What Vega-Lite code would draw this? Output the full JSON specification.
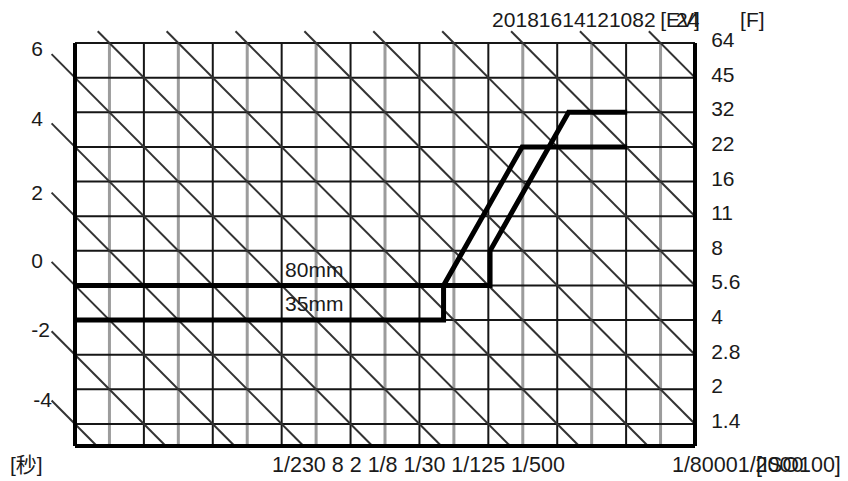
{
  "$schema": "https://vega.github.io/schema/vega-lite/v6.json",
  "width": 620,
  "height": 403,
  "autosize": {"type": "none"},
  "padding": {"left": 75, "top": 43, "right": 153, "bottom": 35},
  "background": "white",
  "view": {"stroke": null},
  "config": {"text": {"font": "Liberation Sans, Noto Sans CJK SC", "fontSize": 21, "color": "#1a1a1a"}},
  "datasets": {
    "hlines": [{"y": 0}, {"y": 1}, {"y": 2}, {"y": 3}, {"y": 4}, {"y": 5}, {"y": 6}, {"y": 7}, {"y": 8}, {"y": 9}, {"y": 10}, {"y": 11}],
    "vblack": [{"x": 2}, {"x": 4}, {"x": 6}, {"x": 8}, {"x": 10}, {"x": 12}, {"x": 14}, {"x": 16}],
    "vgray": [{"x": 1}, {"x": 3}, {"x": 5}, {"x": 7}, {"x": 9}, {"x": 11}, {"x": 13}, {"x": 15}, {"x": 17}],
    "diag": [
      {"c": 0, "x1": -0.68, "y1": 0.68, "x2": 0.635, "y2": -0.635},
      {"c": 2, "x1": -0.68, "y1": 2.68, "x2": 2.635, "y2": -0.635},
      {"c": 4, "x1": -0.68, "y1": 4.68, "x2": 4.635, "y2": -0.635},
      {"c": 6, "x1": -0.68, "y1": 6.68, "x2": 6.635, "y2": -0.635},
      {"c": 8, "x1": -0.68, "y1": 8.68, "x2": 8.635, "y2": -0.635},
      {"c": 10, "x1": -0.68, "y1": 10.68, "x2": 10.635, "y2": -0.635},
      {"c": 12, "x1": 0.66, "y1": 11.34, "x2": 12.635, "y2": -0.635},
      {"c": 14, "x1": 2.66, "y1": 11.34, "x2": 14.635, "y2": -0.635},
      {"c": 16, "x1": 4.66, "y1": 11.34, "x2": 16.635, "y2": -0.635},
      {"c": 18, "x1": 6.66, "y1": 11.34, "x2": 18, "y2": 0},
      {"c": 20, "x1": 8.66, "y1": 11.34, "x2": 18, "y2": 2},
      {"c": 22, "x1": 10.66, "y1": 11.34, "x2": 18, "y2": 4},
      {"c": 24, "x1": 12.66, "y1": 11.34, "x2": 18, "y2": 6},
      {"c": 26, "x1": 14.66, "y1": 11.34, "x2": 18, "y2": 8},
      {"c": 28, "x1": 16.66, "y1": 11.34, "x2": 18, "y2": 10}
    ],
    "program": [
      {"lens": "35mm", "i": 0, "x": 0, "y": 3},
      {"lens": "35mm", "i": 1, "x": 10.7, "y": 3},
      {"lens": "35mm", "i": 2, "x": 10.7, "y": 4},
      {"lens": "35mm", "i": 3, "x": 12.98, "y": 8},
      {"lens": "35mm", "i": 4, "x": 16.03, "y": 8},
      {"lens": "80mm", "i": 0, "x": 0, "y": 4},
      {"lens": "80mm", "i": 1, "x": 12.05, "y": 4},
      {"lens": "80mm", "i": 2, "x": 12.05, "y": 5},
      {"lens": "80mm", "i": 3, "x": 14.33, "y": 9},
      {"lens": "80mm", "i": 4, "x": 16.03, "y": 9}
    ],
    "fnum": [
      {"f": "1.4", "idx": 0}, {"f": "2", "idx": 1}, {"f": "2.8", "idx": 2}, {"f": "4", "idx": 3},
      {"f": "5.6", "idx": 4}, {"f": "8", "idx": 5}, {"f": "11", "idx": 6}, {"f": "16", "idx": 7},
      {"f": "22", "idx": 8}, {"f": "32", "idx": 9}, {"f": "45", "idx": 10}, {"f": "64", "idx": 11}
    ],
    "ev": [
      {"t": "6", "x": -0.93, "y": 10.8},
      {"t": "4", "x": -0.93, "y": 8.78},
      {"t": "2", "x": -0.93, "y": 6.64},
      {"t": "0", "x": -0.93, "y": 4.68},
      {"t": "-2", "x": -0.73, "y": 2.68},
      {"t": "-4", "x": -0.67, "y": 0.66}
    ],
    "texts": [
      {"t": "80mm", "x": 6.1, "y": 4.42},
      {"t": "35mm", "x": 6.1, "y": 3.44},
      {"t": "20181614121082", "x": 12.11, "y": 11.63},
      {"t": "[EV]", "x": 16.99, "y": 11.63},
      {"t": "24", "x": 17.45, "y": 11.63},
      {"t": "[F]", "x": 19.31, "y": 11.63},
      {"t": "[秒]", "x": -1.89, "y": -1.21}
    ],
    "bottom": [
      {"t": "1/230 8 2 1/8 1/30 1/125 1/500", "x": 5.72, "y": -1.21},
      {"t": "1/80001/2000", "x": 17.33, "y": -1.21},
      {"t": "[ISO100]", "x": 19.77, "y": -1.21}
    ]
  },
  "layer": [
    {
      "data": {"name": "vgray"},
      "mark": {"type": "rule", "stroke": "#9c9c9c", "strokeWidth": 3},
      "encoding": {
        "x": {"field": "x", "type": "quantitative", "scale": {"domain": [0, 18], "nice": false, "zero": false}, "axis": null}
      }
    },
    {
      "data": {"name": "hlines"},
      "mark": {"type": "rule", "stroke": "#161616", "strokeWidth": 2},
      "encoding": {
        "y": {"field": "y", "type": "quantitative", "scale": {"domain": [-0.635, 11], "nice": false, "zero": false}, "axis": null}
      }
    },
    {
      "data": {"name": "vblack"},
      "mark": {"type": "rule", "stroke": "#161616", "strokeWidth": 2},
      "encoding": {
        "x": {"field": "x", "type": "quantitative"}
      }
    },
    {
      "data": {"name": "diag"},
      "mark": {"type": "rule", "stroke": "#333333", "strokeWidth": 2},
      "encoding": {
        "x": {"field": "x1", "type": "quantitative"},
        "y": {"field": "y1", "type": "quantitative"},
        "x2": {"field": "x2"},
        "y2": {"field": "y2"}
      }
    },
    {
      "data": {"values": [{"x": 0}, {"x": 18}]},
      "mark": {"type": "rule", "stroke": "#000000", "strokeWidth": 4},
      "encoding": {"x": {"field": "x", "type": "quantitative"}}
    },
    {
      "data": {"values": [{"y": -0.635}]},
      "mark": {"type": "rule", "stroke": "#000000", "strokeWidth": 4},
      "encoding": {"y": {"field": "y", "type": "quantitative"}}
    },
    {
      "data": {"name": "program"},
      "mark": {"type": "line", "stroke": "#000000", "strokeWidth": 5, "strokeJoin": "miter"},
      "encoding": {
        "x": {"field": "x", "type": "quantitative"},
        "y": {"field": "y", "type": "quantitative"},
        "detail": {"field": "lens"},
        "order": {"field": "i", "type": "quantitative"}
      }
    },
    {
      "data": {"name": "fnum"},
      "mark": {"type": "text", "align": "left", "baseline": "middle", "dy": -2},
      "encoding": {
        "x": {"datum": 18.47, "type": "quantitative"},
        "y": {"field": "idx", "type": "quantitative"},
        "text": {"field": "f"}
      }
    },
    {
      "data": {"name": "ev"},
      "mark": {"type": "text", "align": "right", "baseline": "middle"},
      "encoding": {
        "x": {"field": "x", "type": "quantitative"},
        "y": {"field": "y", "type": "quantitative"},
        "text": {"field": "t"}
      }
    },
    {
      "data": {"name": "texts"},
      "mark": {"type": "text", "align": "left", "baseline": "middle"},
      "encoding": {
        "x": {"field": "x", "type": "quantitative"},
        "y": {"field": "y", "type": "quantitative"},
        "text": {"field": "t"}
      }
    },
    {
      "data": {"name": "bottom"},
      "mark": {"type": "text", "align": "left", "baseline": "middle", "fontSize": 21.5},
      "encoding": {
        "x": {"field": "x", "type": "quantitative"},
        "y": {"field": "y", "type": "quantitative"},
        "text": {"field": "t"}
      }
    }
  ]
}
